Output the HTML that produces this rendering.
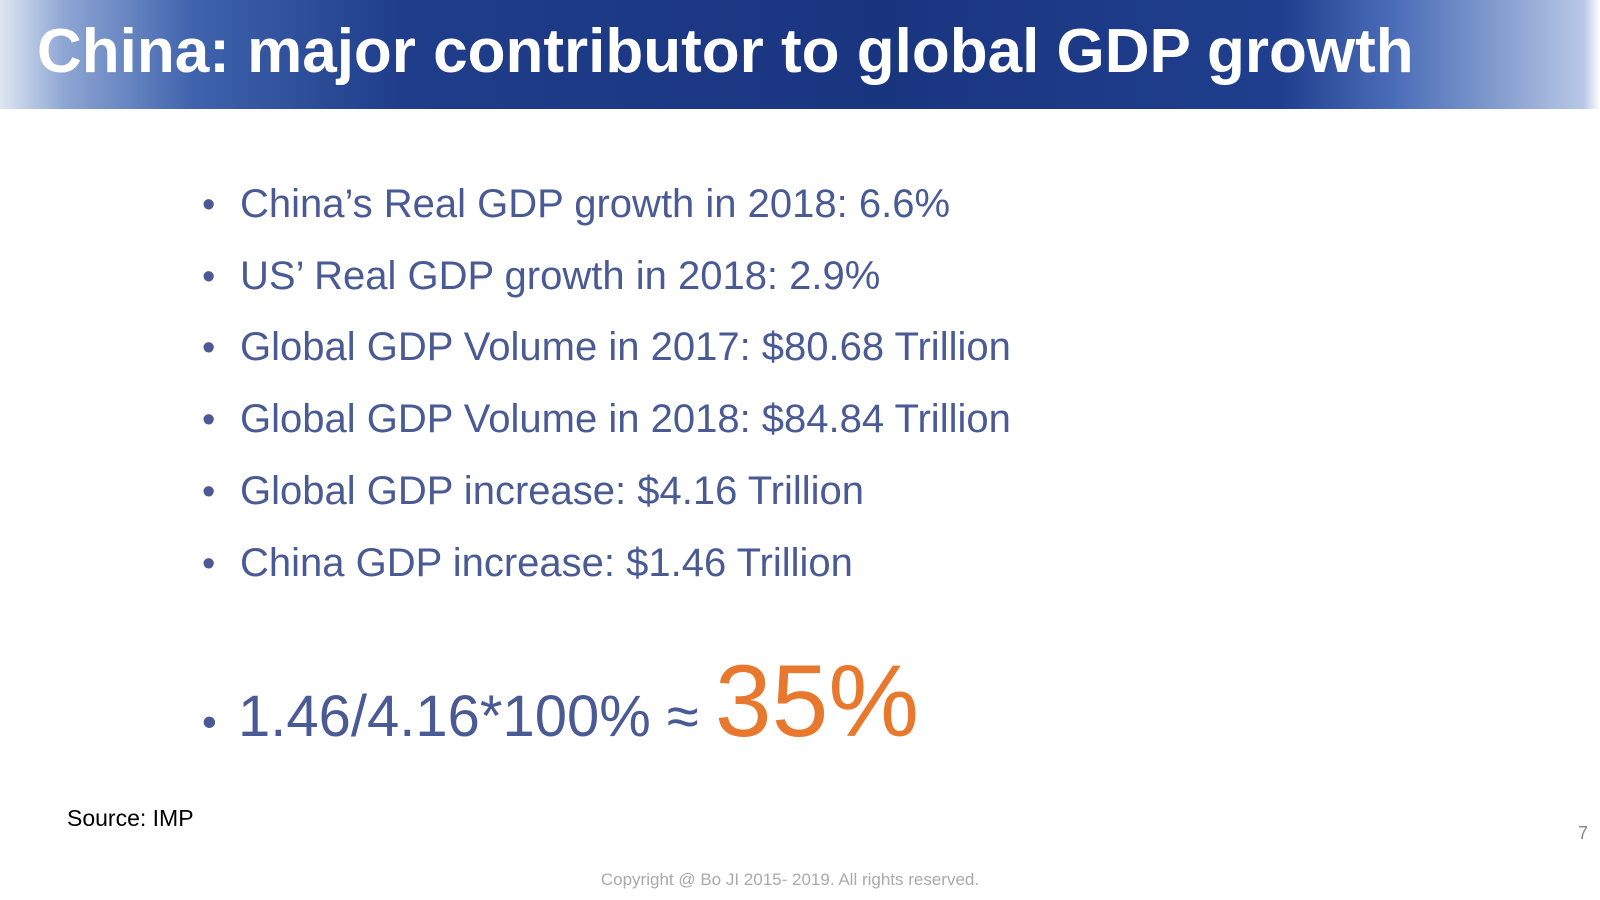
<!DOCTYPE html>
<html><head><meta charset="utf-8"><style>
body{margin:0;width:1600px;height:900px;background:#fff;position:relative;overflow:hidden;font-family:"Liberation Sans",Arial,sans-serif}
#hdr{position:absolute;left:0;top:0;width:1600px;height:109px;background:linear-gradient(90deg,#dfe6f2 0%,#8ea6d4 4%,#3f63ad 12%,#1f3d8a 25%,#1a3580 55%,#1f3f8e 80%,#4a6cb8 87%,#7d98cc 93%,#b9c8e6 99%,#fff 100%)}
#title{position:absolute;left:37px;top:16px;font-size:62px;font-weight:bold;color:#fff;white-space:nowrap}
.b{position:absolute;left:202px;font-size:40px;color:#4a5a95;white-space:nowrap}
.b span.dot{display:inline-block;width:38px;font-size:38px}
#big{position:absolute;left:202px;top:643px;font-size:58px;color:#4a5a95;white-space:nowrap}
#pct{font-size:102px;color:#e8782e}
#src{position:absolute;left:67px;top:805px;font-size:23px;color:#000}
#pg{position:absolute;left:1578px;top:823px;font-size:18px;color:#888}
#copy{position:absolute;left:0;width:1580px;text-align:center;top:870px;font-size:17px;color:#aaa}
</style></head><body>
<div id="hdr"></div>
<div id="title">China: major contributor to global GDP growth</div>
<div class="b" style="top:182px"><span class="dot">•</span>China’s Real GDP growth in 2018: 6.6%</div>
<div class="b" style="top:254px"><span class="dot">•</span>US’ Real GDP growth in 2018: 2.9%</div>
<div class="b" style="top:325px"><span class="dot">•</span>Global GDP Volume in 2017: $80.68 Trillion</div>
<div class="b" style="top:397px"><span class="dot">•</span>Global GDP Volume in 2018: $84.84 Trillion</div>
<div class="b" style="top:469px"><span class="dot">•</span>Global GDP increase: $4.16 Trillion</div>
<div class="b" style="top:541px"><span class="dot">•</span>China GDP increase: $1.46 Trillion</div>
<div id="big"><span style="display:inline-block;width:36px;font-size:42px">•</span>1.46/4.16*100% ≈ <span id="pct">35%</span></div>
<div id="src">Source: IMP</div>
<div id="pg">7</div>
<div id="copy">Copyright @ Bo JI 2015- 2019. All rights reserved.</div>
</body></html>
